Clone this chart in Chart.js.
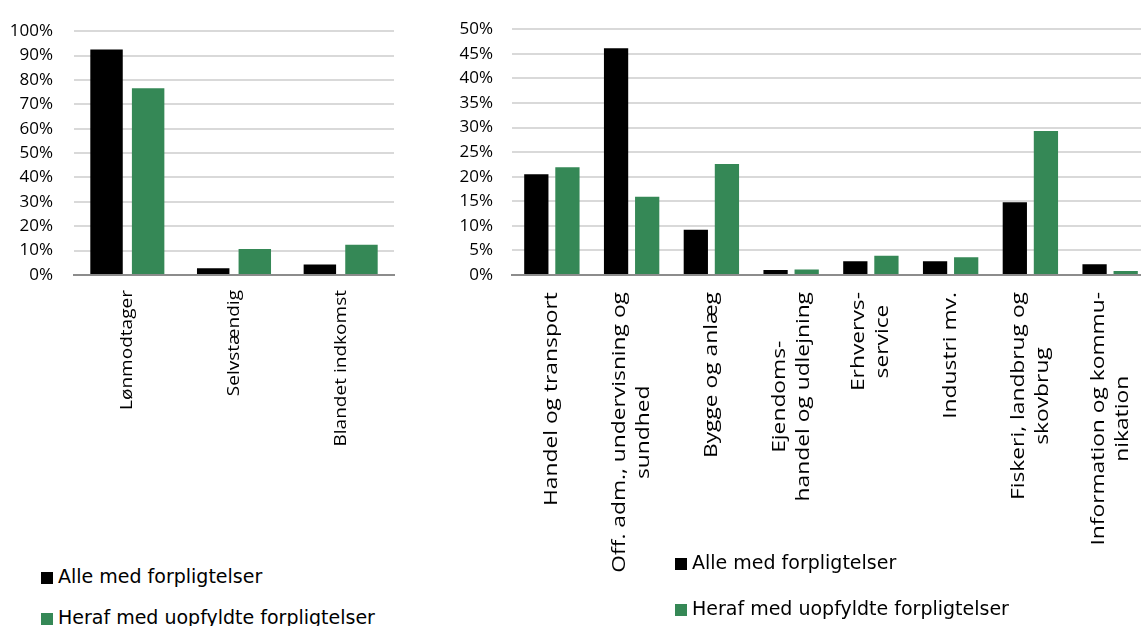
<!DOCTYPE html>
<html>
<head>
<meta charset="utf-8">
<script src="https://cdn.jsdelivr.net/npm/chart.js@4"></script>
<style>
  html, body { margin: 0; padding: 0; width: 1141px; height: 626px; overflow: hidden; background: #fff; }
  canvas { position: absolute; top: 0; }
  #chartLeft { left: 0; }
  #chartRight { left: 440px; }
  .legend-item { position: absolute; font: 19px "DejaVu Sans", sans-serif; color: #000; line-height: 24px; height: 24px; white-space: nowrap; }
  .legend-item span { display: inline-block; width: 12px; height: 12px; margin-right: 5px; vertical-align: -1px; }
</style>
</head>
<body>
<canvas id="chartLeft" width="400" height="560"></canvas>
<canvas id="chartRight" width="710" height="600"></canvas>
<div id="legendLeft"></div>
<div id="legendRight"></div>
<script>
const seriesNames = ['Alle med forpligtelser', 'Heraf med uopfyldte forpligtelser'];
const seriesColors = ['#000000', '#358856'];

// left chart: income type
const leftLabels = ['Lønmodtager', 'Selvstændig', 'Blandet indkomst'];
const leftAlle = [92.5, 2.8, 4.3];
const leftHeraf = [76.6, 10.7, 12.4];

// right chart: industry
const rightLabels = [
    ['Handel og transport'],
    ['Off. adm., undervisning og', 'sundhed'],
    ['Bygge og anlæg'],
    ['Ejendoms-', 'handel og udlejning'],
    ['Erhvervs-', 'service'],
    ['Industri mv.'],
    ['Fiskeri, landbrug og', 'skovbrug'],
    ['Information og kommu-', 'nikation']
];
const rightAlle = [20.5, 46.1, 9.2, 1.0, 2.8, 2.8, 14.8, 2.2];
const rightHeraf = [21.9, 15.9, 22.6, 1.1, 3.9, 3.6, 29.3, 0.8];

// category labels drawn rotated, lines centred on each other like Excel does
const rotLabels = {
    id: 'rotLabels',
    afterDraw(chart, args, opts) {
        const scale = chart.scales.x;
        const ctx = chart.ctx;
        ctx.save();
        ctx.font = opts.font;
        ctx.fillStyle = '#000';
        ctx.textAlign = 'center';
        ctx.textBaseline = 'middle';
        chart.data.labels.forEach((lab, i) => {
            const lines = [].concat(lab);
            const maxW = Math.max(...lines.map(l => ctx.measureText(l).width));
            const x = scale.getPixelForTick(i);
            const yc = scale.top + opts.offset + opts.stretch * maxW / 2;
            lines.forEach((line, j) => {
                ctx.save();
                ctx.translate(x + (j - (lines.length - 1) / 2) * opts.lineHeight, yc);
                ctx.scale(1, opts.stretch);
                ctx.rotate(-Math.PI / 2);
                ctx.fillText(line, 0, 0);
                ctx.restore();
            });
        });
        ctx.restore();
    }
};

function SetupChart(id, labels, alle, heraf, max, step, yWidth, top, right, labelOpts) {
    const canvas = document.getElementById(id);
    return new Chart(canvas.getContext('2d'), {
        type: 'bar',
        data: {
            labels: labels,
            datasets: [alle, heraf].map((d, k) => ({
                label: seriesNames[k],
                data: d,
                backgroundColor: seriesColors[k],
                borderWidth: 0,
                categoryPercentage: 0.78,
                barPercentage: 0.78
            }))
        },
        options: {
            responsive: false,
            animation: false,
            layout: { padding: { top: top, right: right, left: 0, bottom: 0 } },
            plugins: {
                legend: { display: false },
                tooltip: { enabled: false },
                rotLabels: labelOpts
            },
            scales: {
                x: {
                    ticks: { display: false },
                    grid: { display: false },
                    border: { display: true, color: '#8c8c8c', width: 2 },
                    afterFit: s => { s.height = canvas.height - 275; }
                },
                y: {
                    min: 0,
                    max: max,
                    ticks: {
                        stepSize: step,
                        padding: yWidth === 74 ? 21 : 19,
                        color: '#000',
                        font: { family: 'Open Sans', size: 17 },
                        callback: v => v + '%'
                    },
                    grid: { color: '#d9d9d9', lineWidth: 2, drawTicks: false },
                    border: { display: false },
                    afterFit: s => { s.width = yWidth; }
                }
            }
        },
        plugins: [rotLabels]
    });
}

SetupChart('chartLeft', leftLabels, leftAlle, leftHeraf, 100, 10, 74, 22, 6,
    { font: '17px "Open Sans"', offset: 15, stretch: 1.12, lineHeight: 22 });
SetupChart('chartRight', rightLabels, rightAlle, rightHeraf, 50, 5, 72, 25, 0,
    { font: '19px "Open Sans"', offset: 17, stretch: 1.2, lineHeight: 24 });

function makeLegend(id, left, centers) {
    const el = document.getElementById(id);
    seriesNames.forEach((name, k) => {
        const item = document.createElement('div');
        item.className = 'legend-item';
        item.style.left = left + 'px';
        item.style.top = (centers[k] - 12) + 'px';
        const box = document.createElement('span');
        box.style.background = seriesColors[k];
        item.appendChild(box);
        item.appendChild(document.createTextNode(name));
        el.appendChild(item);
    });
}
makeLegend('legendLeft', 41, [576, 617]);
makeLegend('legendRight', 675, [562, 608]);
</script>
</body>
</html>
